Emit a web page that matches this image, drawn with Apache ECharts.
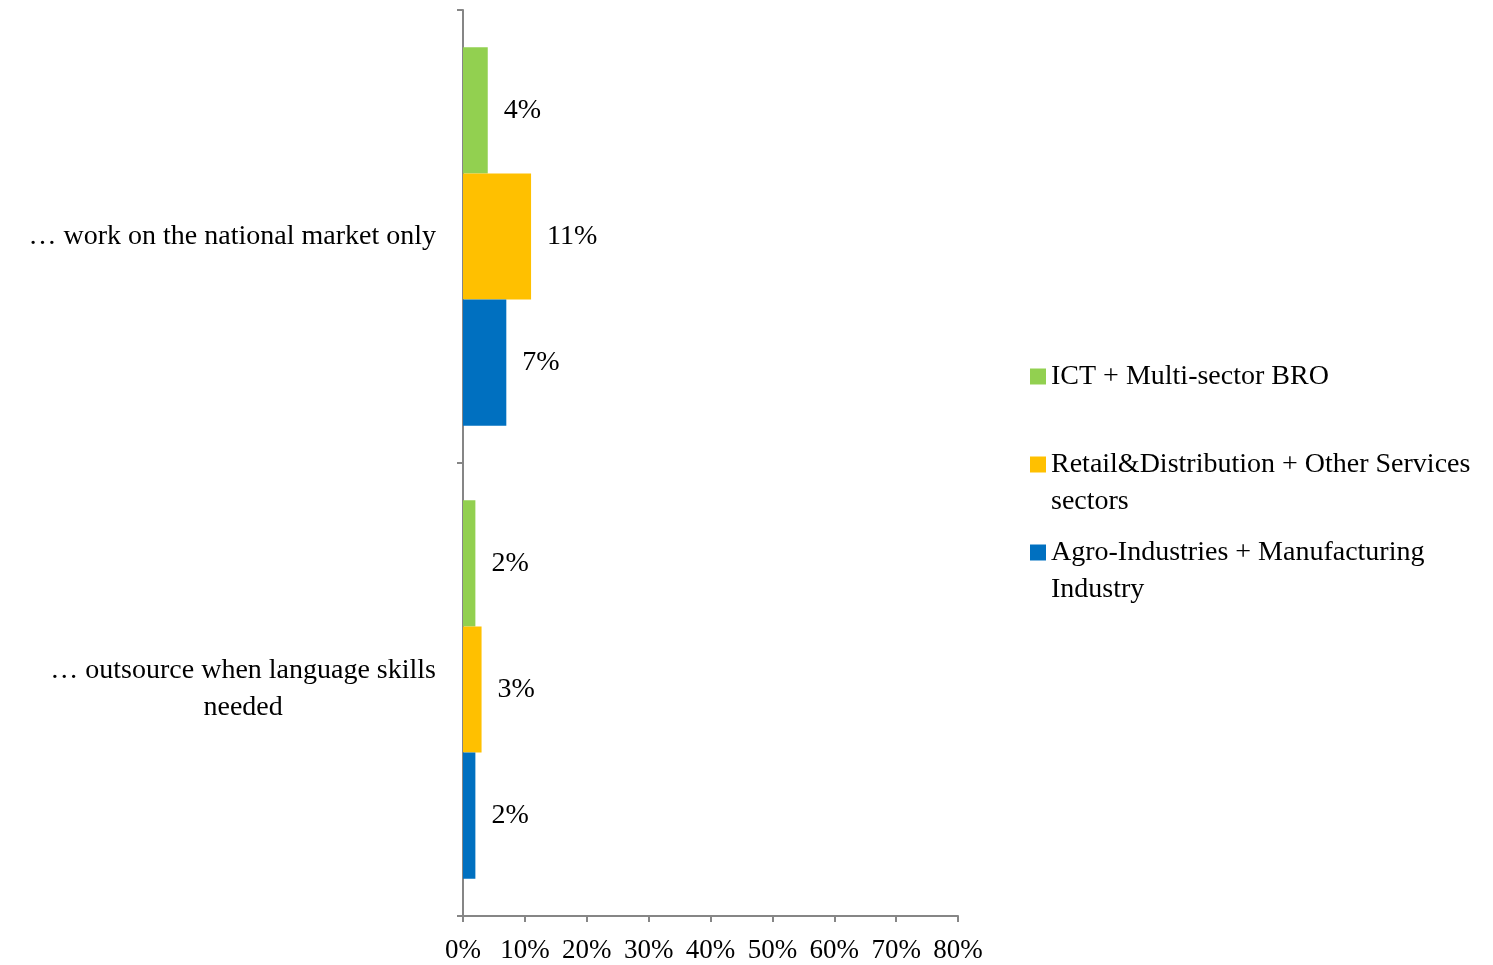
<!DOCTYPE html>
<html>
<head>
<meta charset="utf-8">
<script src="https://cdn.jsdelivr.net/npm/echarts@6/dist/echarts.min.js"></script>
<style>
  html, body { margin: 0; padding: 0; background: #fff; }
  #chart { width: 1493px; height: 965px; }
</style>
</head>
<body>
<div id="chart"></div>
<script>
// categories, top to bottom
var categories = ["… work on the national market only", "… outsource when language skills\nneeded"];
var seriesNames = ["ICT + Multi-sector BRO", "Retail&Distribution + Other Services sectors", "Agro-Industries + Manufacturing Industry"];
// legend text as wrapped in the picture (blank first line keeps the icon level with line one)
var legendLabels = [" \nICT + Multi-sector BRO\n ", " \nRetail&Distribution + Other Services\nsectors", " \nAgro-Industries + Manufacturing\nIndustry"];
var ictValues = [4, 2];
var retailValues = [11, 3];
var agroValues = [7, 2];
var xTicks = { min: 0, max: 80, interval: 10 };

var colors = ["#92D050", "#FFC000", "#0070C0"];
var font = "'Liberation Serif', 'Times New Roman', serif";

var myChart = echarts.init(document.getElementById("chart"));

function makeSeries(name, values, color) {
  return {
    name: name,
    type: "bar",
    data: values,
    barGap: "0%",
    barCategoryGap: "16.5%",
    itemStyle: { color: color },
    label: {
      show: true,
      position: "right",
      distance: 16,
      formatter: "{c}%",
      color: "#000",
      fontFamily: font,
      fontSize: 28
    }
  };
}

var option = {
  animation: false,
  textStyle: { fontFamily: font },
  grid: { left: 463, right: 535, top: 10, bottom: 49 },
  legend: {
    orient: "vertical",
    left: 1030,
    top: 321,
    padding: 0,
    itemGap: -23,
    itemWidth: 16,
    itemHeight: 16,
    icon: "rect",
    data: seriesNames,
    formatter: function (name) {
      return legendLabels[seriesNames.indexOf(name)];
    },
    textStyle: {
      color: "#000",
      fontFamily: font,
      fontSize: 28,
      lineHeight: 37
    }
  },
  xAxis: {
    type: "value",
    min: xTicks.min,
    max: xTicks.max,
    interval: xTicks.interval,
    axisLine: { show: true, lineStyle: { color: "#868686", width: 2 } },
    axisTick: { show: true, length: 6, lineStyle: { color: "#868686", width: 2 } },
    splitLine: { show: false },
    axisLabel: {
      formatter: "{value}%",
      color: "#000",
      fontFamily: font,
      fontSize: 27,
      margin: 21
    }
  },
  yAxis: {
    type: "category",
    inverse: true,
    data: categories,
    axisLine: { show: true, lineStyle: { color: "#868686", width: 2 } },
    axisTick: { show: true, length: 6, lineStyle: { color: "#868686", width: 2 } },
    axisLabel: {
      margin: 27,
      formatter: function (v) {
        return v.split("\n").map(function (s) { return "{a|" + s + "}"; }).join("\n");
      },
      rich: {
        a: {
          align: "center",
          color: "#000",
          fontFamily: font,
          fontSize: 28,
          lineHeight: 37
        }
      }
    }
  },
  series: [
    makeSeries(seriesNames[0], ictValues, colors[0]),
    makeSeries(seriesNames[1], retailValues, colors[1]),
    makeSeries(seriesNames[2], agroValues, colors[2])
  ]
};

myChart.setOption(option);
window.addEventListener("resize", function () {
  myChart.resize();
});
</script>
</body>
</html>
